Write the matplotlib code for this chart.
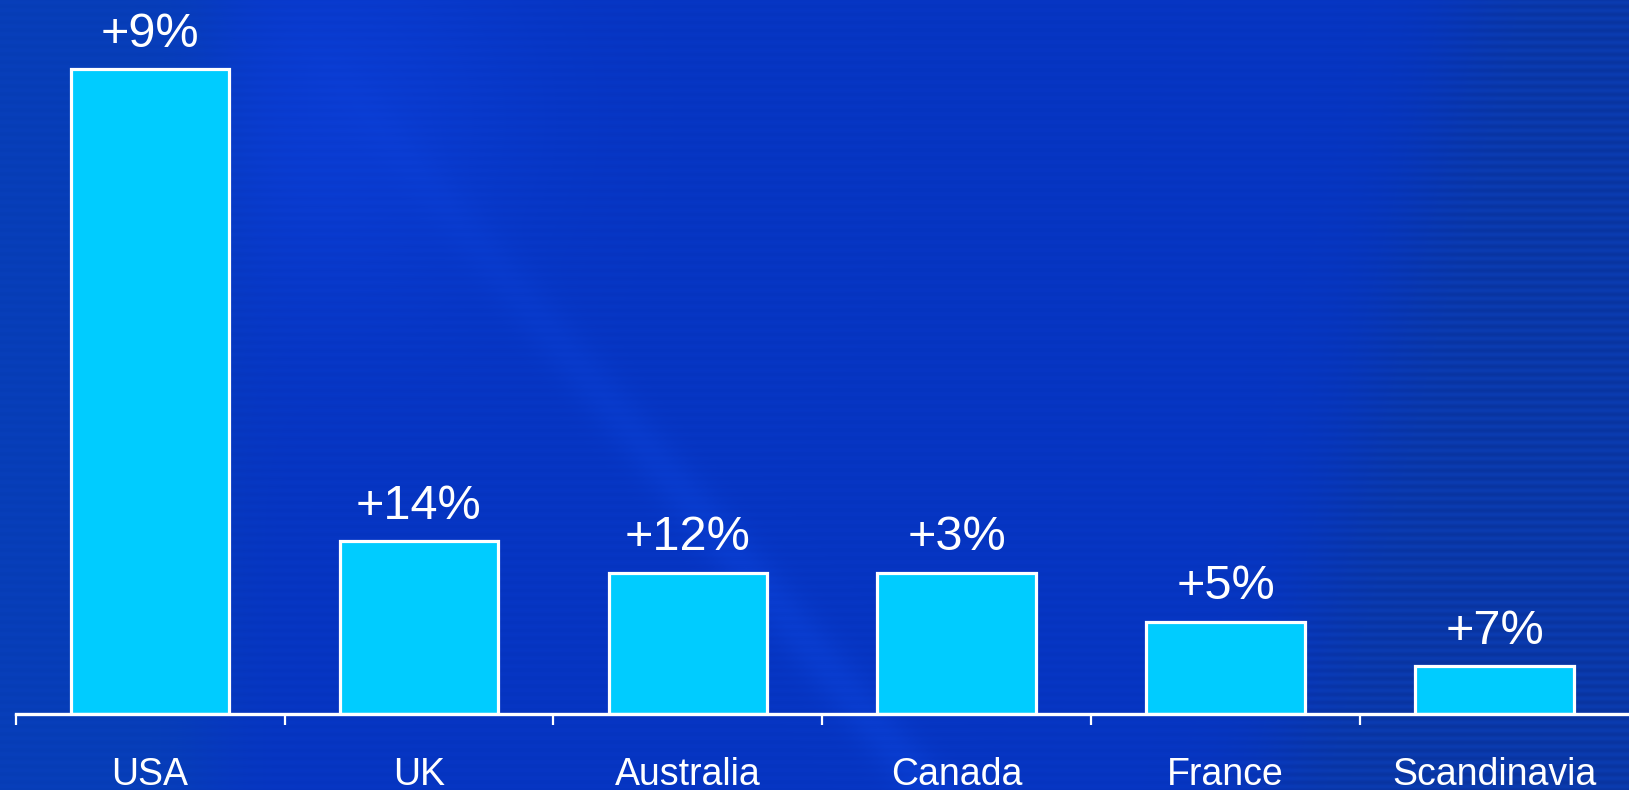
import numpy as np
import matplotlib
matplotlib.use("Agg")
import matplotlib.pyplot as plt

# Market data
regions = ["USA", "UK", "Australia", "Canada", "France", "Scandinavia"]
volume = [12.9, 3.46, 2.83, 2.83, 1.85, 0.96]
growth = ["+9%", "+14%", "+12%", "+3%", "+5%", "+7%"]

W, H = 1629, 790
plt.rcParams["font.family"] = ["Liberation Sans", "DejaVu Sans"]

fig = plt.figure(figsize=(W / 100, H / 100), dpi=100)

# ---- slide-style blue background ----
bg = fig.add_axes([0, 0, 1, 1], zorder=0)
yy, xx = np.mgrid[0:1:H * 1j, 0:1:W * 1j]
c = lambda r, g, b: np.array([r, g, b]) / 255.0

rgb = np.broadcast_to(c(6, 53, 194), (H, W, 3)).copy()

# brighter patch upper left-centre
glow = np.exp(-(((xx - 0.2) / 0.12) ** 2 + ((yy - 0.15) / 0.25) ** 2))
rgb += glow[..., None] * (c(10, 60, 210) - c(6, 53, 194))

# greyer strip along the left edge
lft = 1 / (1 + np.exp((xx - 0.13) / 0.015))
rgb = rgb * (1 - lft[..., None]) + lft[..., None] * c(7, 62, 184)

# faint diagonal light streak
lx = 0.17 + 0.40 * yy
dist = (xx - lx) * W / H
streak = np.exp(-(dist / 0.04) ** 2) * np.clip(yy * 1.4, 0, 1)
rgb += streak[..., None] * c(3, 7, 12)

# darker right-hand panel with scan lines
edge = 0.90 - 0.12 * yy
right = 1 / (1 + np.exp(-(xx - edge) / 0.02))
rgb = rgb * (1 - right[..., None]) + right[..., None] * c(10, 56, 168)
rows = np.arange(H)[:, None] * np.ones((1, W))
scan = np.sin(2 * np.pi * rows / 8.0)
rgb += (scan * (0.25 + 0.75 * right))[..., None] * c(1, 4, 8)

rgb = np.clip(rgb, 0, 1)
bg.imshow(rgb, extent=(0, 1, 0, 1), aspect="auto", origin="upper",
          interpolation="bilinear")
bg.set_axis_off()

# ---- bar chart ----
left = 15.6 / W
bottom = 76 / H
ax = fig.add_axes([left, bottom, 1 - left, 1 - bottom], zorder=1)
ax.patch.set_alpha(0)

x = np.arange(len(regions))
ax.bar(x, volume, width=0.59, color="#00CCFF", edgecolor="white",
       linewidth=2.3, zorder=2)
ax.set_xlim(-0.5, len(regions) - 0.5)
ax.set_ylim(0, 714 / 50)

for xi, v, g in zip(x, volume, growth):
    ax.annotate(g, (xi, v), xytext=(0, 16), textcoords="offset points",
                ha="center", va="baseline", fontsize=35, color="white")

for s in ("left", "right", "top"):
    ax.spines[s].set_visible(False)
ax.spines["bottom"].set_color("white")
ax.spines["bottom"].set_linewidth(2.4)
ax.spines["bottom"].set_zorder(3)
ax.set_yticks([])

ax.set_xticks(np.arange(len(regions)) - 0.5)
ax.set_xticklabels([])
ax.tick_params(axis="x", which="major", direction="out", length=8,
               width=1.6, color="white")
ax.set_xticks(x, labels=regions, minor=True)
ax.tick_params(axis="x", which="minor", length=0, pad=31, labelsize=27,
               labelcolor="white")

fig.savefig("out.png", dpi=100)
